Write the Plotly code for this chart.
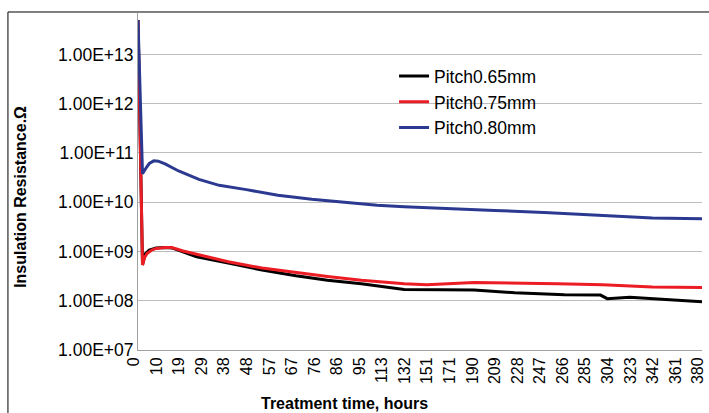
import plotly.graph_objects as go

# Reading number (Excel category index) and the hour label shown every 10 readings
tick_readings = [0, 10, 20, 30, 40, 50, 60, 70, 80, 90, 100, 110, 120, 130, 140,
                 150, 160, 170, 180, 190, 200, 210, 220, 230, 240, 250]
tick_hours = ["0", "10", "19", "29", "38", "48", "57", "67", "76", "86", "95", "113",
              "132", "151", "171", "190", "209", "228", "247", "266", "285", "304",
              "323", "342", "361", "380"]

y_tickvals = [1e7, 1e8, 1e9, 1e10, 1e11, 1e12, 1e13]
y_ticktext = ["1.00E+07", "1.00E+08", "1.00E+09", "1.00E+10", "1.00E+11", "1.00E+12", "1.00E+13"]

series_names = ["Pitch0.65mm", "Pitch0.75mm", "Pitch0.80mm"]
series_colors = ["#000000", "#ec1c24", "#2b3990"]

# Pitch 0.65 mm
r065 = [0, 2, 3, 5, 8, 12, 15, 20, 26, 40, 55, 70, 84, 99, 118, 135, 149, 167, 189,
        205, 208, 218, 233, 248, 250]
v065 = [5.0e13, 5.3e8, 8.8e8, 1.07e9, 1.17e9, 1.2e9, 1.18e9, 9.8e8, 7.8e8, 5.8e8,
        4.2e8, 3.2e8, 2.6e8, 2.2e8, 1.7e8, 1.68e8, 1.66e8, 1.45e8, 1.32e8, 1.3e8,
        1.1e8, 1.17e8, 1.07e8, 9.5e7, 9.5e7]

# Pitch 0.75 mm
r075 = [0, 2, 3, 4, 6, 8, 12, 15, 20, 26, 40, 55, 70, 84, 99, 118, 128, 140, 149,
        186, 206, 228, 250]
v075 = [5.0e13, 5.3e8, 7.6e8, 9.1e8, 1.06e9, 1.15e9, 1.2e9, 1.2e9, 1.02e9, 8.7e8,
        6.2e8, 4.6e8, 3.7e8, 3.1e8, 2.6e8, 2.2e8, 2.1e8, 2.2e8, 2.35e8, 2.2e8,
        2.1e8, 1.9e8, 1.85e8]

# Pitch 0.80 mm
r080 = [0, 2, 4, 5, 7, 9, 12, 15, 18, 27, 36, 48, 62, 77, 92, 106, 118, 142, 158,
        180, 193, 206, 228, 250]
v080 = [5.0e13, 3.8e10, 5.3e10, 6.1e10, 6.9e10, 6.8e10, 6.0e10, 5.0e10, 4.3e10,
        2.9e10, 2.2e10, 1.8e10, 1.38e10, 1.15e10, 9.8e9, 8.7e9, 8.1e9, 7.2e9, 6.8e9,
        6.2e9, 5.8e9, 5.4e9, 4.8e9, 4.6e9]

xs = [r065, r075, r080]
ys = [v065, v075, v080]

fig = go.Figure()
for name, color, x, y in zip(series_names, series_colors, xs, ys):
    fig.add_trace(go.Scatter(x=x, y=y, mode="lines", name=name,
                             line=dict(color=color, width=3)))

FONT = "Liberation Sans, Arial, sans-serif"

fig.update_layout(
    width=709, height=413,
    margin=dict(l=138, r=3, t=13, b=63),
    paper_bgcolor="white", plot_bgcolor="white",
    font=dict(family=FONT, color="black", size=16),
    showlegend=True,
    legend=dict(x=0.454, y=0.866, xanchor="left", yanchor="top",
                bgcolor="rgba(0,0,0,0)", font=dict(size=17.5, family=FONT),
                itemwidth=30),
    xaxis=dict(range=[0, 250], tickmode="array", tickvals=tick_readings,
               ticktext=tick_hours, tickangle=-90, showgrid=False,
               showline=True, linecolor="#a0a0a0", linewidth=1, ticks="",
               zeroline=False, tickfont=dict(size=16, family=FONT),
               ticklabeloverflow="allow", ticklabelshift=-4),
    yaxis=dict(type="log", range=[7, 13.84], tickmode="array", tickvals=y_tickvals,
               ticktext=y_ticktext, showgrid=True, gridcolor="#bdbdbd", gridwidth=1,
               showline=True, linecolor="#a0a0a0", linewidth=1, ticks="",
               zeroline=False, tickfont=dict(size=17.5, family=FONT)),
    shapes=[
        dict(type="line", xref="paper", yref="paper", x0=-0.2306, x1=1.2,
             y0=1.003, y1=1.003, line=dict(color="black", width=1)),
        dict(type="line", xref="paper", yref="paper", x0=-0.2306, x1=-0.2306,
             y0=1.003, y1=-0.3, line=dict(color="black", width=1)),
    ],
    annotations=[
        dict(text="<b>Treatment time, hours</b>", xref="paper", yref="paper",
             x=0.366, y=-0.16, xanchor="center", yanchor="middle", showarrow=False,
             font=dict(size=16, family=FONT)),
        dict(text="<b>Insulation Resistance.Ω</b>", xref="paper", yref="paper",
             x=-0.2095, y=0.454, xanchor="center", yanchor="middle", showarrow=False,
             textangle=-90, font=dict(size=16, family=FONT)),
    ],
)

fig.write_html("out.html", config={"displayModeBar": False},
               post_script="document.body.style.margin='0';document.body.style.padding='0';")
